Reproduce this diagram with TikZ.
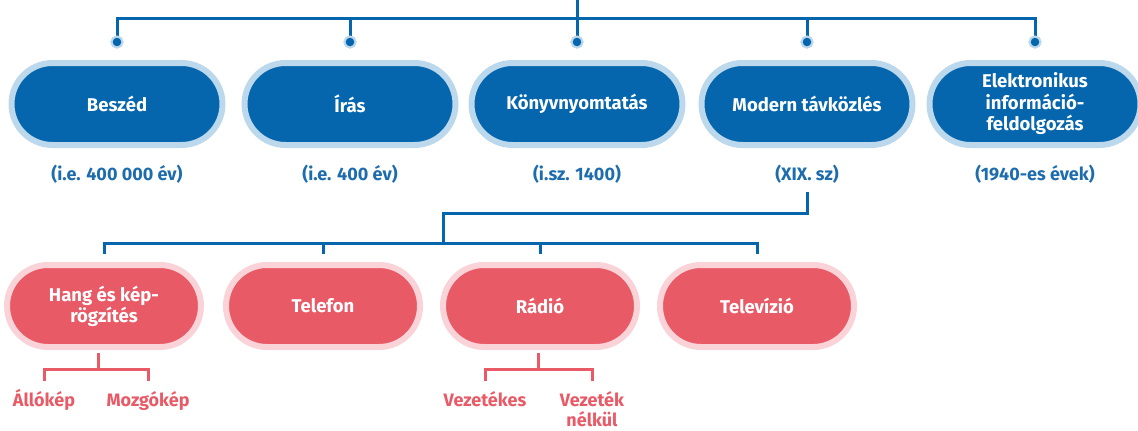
\documentclass[tikz,border=0pt]{standalone}
\usepackage{fontspec}
\setmainfont{Fira Sans}
\definecolor{bdark}{HTML}{0566AD}
\definecolor{blight}{HTML}{BCD8EC}
\definecolor{btext}{HTML}{1C6CAE}
\definecolor{rdark}{HTML}{E95A67}
\definecolor{rlight}{HTML}{F9D3D7}
\tikzset{
  bpill/.style={draw=blight, fill=bdark, line width=6pt, minimum width=211pt, minimum height=82pt,
    rounded corners=41pt, text=white, font=\bfseries\fontsize{18.5}{21.5}\selectfont, align=center, inner sep=0pt},
  rpill/.style={draw=rlight, fill=rdark, line width=6pt, minimum width=194pt, minimum height=82pt,
    rounded corners=41pt, text=white, font=\bfseries\fontsize{18.5}{21}\selectfont, align=center, inner sep=0pt},
  bline/.style={draw=bdark, line width=3pt},
  rline/.style={draw=rdark, line width=3pt},
  bdot/.style={circle, fill=bdark, draw=blight, line width=2pt, minimum size=11pt, inner sep=0pt},
  datelbl/.style={text=btext, font=\bfseries\fontsize{18}{20}\selectfont, inner sep=0pt},
  sublbl/.style={text=rdark, font=\bfseries\fontsize{18}{20}\selectfont, align=center, inner sep=0pt, anchor=base},
}
\begin{document}
\begin{tikzpicture}[x=1pt,y=-1pt]
\useasboundingbox (0,0) rectangle (1138,431);
% top connectors
\coordinate (top) at (577,0);
\coordinate (bar) at (577,18);
\node[bdot] (dot1) at (117,42) {};
\node[bdot] (dot2) at (350,42) {};
\node[bdot] (dot3) at (577,42) {};
\node[bdot] (dot4) at (807,42) {};
\node[bdot] (dot5) at (1035,42) {};
\draw[bline] (top) -- (bar);
\draw[bline] (dot1.center) |- (bar) -| (dot5.center);
\draw[bline] (dot2.center) |- (bar);
\draw[bline] (dot3.center) -- (bar);
\draw[bline] (dot4.center) |- (bar);
\foreach \x in {117,350,577,807,1035}{\node[bdot] at (\x,42) {};}
% top pills
\node[bpill] (b1) at (117,104) {Beszéd};
\node[bpill] (b2) at (350,104) {Írás};
\node[bpill] (b3) at (577,104) {Könyvnyomtatás};
\node[bpill] (b4) at (807,104) {Modern távközlés};
\node[bpill] (b5) at (1035,104) {Elektronikus\\információ-\\feldolgozás};
% dates
\node[datelbl] (d1) at (117,174) {(i.e. 400 000 év)};
\node[datelbl] (d2) at (350,174) {(i.e. 400 év)};
\node[datelbl] (d3) at (577,174) {(i.sz. 1400)};
\node[datelbl] (d4) at (807,174) {(XIX. sz)};
\node[datelbl] (d5) at (1035,174) {(1940-es évek)};
% bottom pills
\node[rpill] (r1) at (104,306) {Hang és kép-\\rögzítés};
\node[rpill] (r2) at (323,306) {Telefon};
\node[rpill] (r3) at (540,306) {Rádió};
\node[rpill] (r4) at (757,306) {Televízió};
% middle connectors
\coordinate (m4) at (807,192);
\coordinate (j1) at (443,213);
\coordinate (j2) at (443,243);
\draw[bline] (m4) |- (j1) -- (j2);
\draw[bline] ([yshift=8pt]r1.north) |- (j2) -| ([yshift=8pt]r4.north);
\draw[bline] ([yshift=8pt]r2.north) -- (r2.north |- j2);
\draw[bline] ([yshift=8pt]r3.north) -- (r3.north |- j2);
% sub labels
\node[sublbl] (s1) at (44,406) {Állókép};
\node[sublbl] (s2) at (148,406) {Mozgókép};
\node[sublbl] (s3) at (485,406) {Vezetékes};
\node[sublbl] (s4) at (592,426) {Vezeték\\nélkül};
\coordinate (h0) at (98,353);
\coordinate (h1) at (98,369);
\coordinate (e1) at (0,381);
\coordinate (v0) at (538,353);
\coordinate (v1) at (538,369);
\draw[rline] (h0) -- (h1);
\draw[rline] (s1.north |- e1) |- (h1) -| (s2.north |- e1);
\draw[rline] (v0) -- (v1);
\draw[rline] (s3.north |- e1) |- (v1) -| (s4.north |- e1);
\end{tikzpicture}
\end{document}
